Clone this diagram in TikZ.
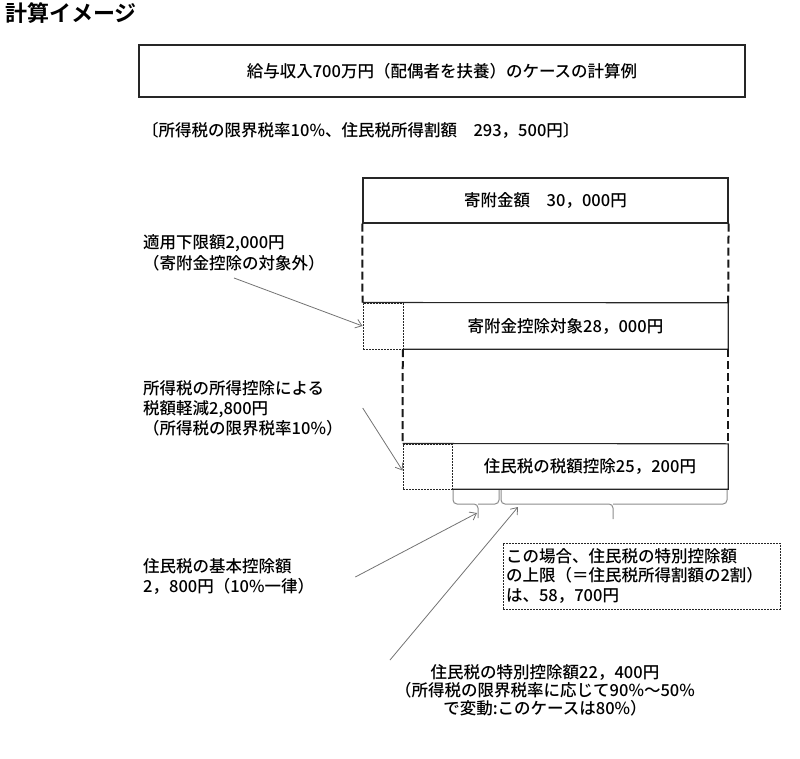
\documentclass[tikz,border=0pt]{standalone}
\usepackage{fontspec}
\setmainfont{Noto Sans CJK JP}[UprightFont={Noto Sans CJK JP Medium}, BoldFont={Noto Sans CJK JP Bold}]
\usetikzlibrary{positioning,calc,arrows.meta}

\begin{document}
\begin{tikzpicture}[x=1pt, y=-1pt, >={Straight Barb[length=6pt,width=9pt]},
    every node/.style={font=\fontsize{16.5}{20.5}\selectfont, inner sep=3pt},
    solidbox/.style={draw=black!85, line width=1.1pt, align=center},
    openbox/.style={align=center},
    dotbox/.style={draw=black!85, line width=1pt, dash pattern=on 2pt off 1pt},
    dashline/.style={draw=black!90, line width=2pt, dash pattern=on 8pt off 4pt},
    grayarrow/.style={->, draw=black!55, line width=0.8pt},
    bracepath/.style={draw=black!45, line width=1pt, rounded corners=4pt},
    note/.style={align=left, anchor=west}]
    \useasboundingbox (0,0) rectangle (800,759);

    % Title
    \node[anchor=north west, inner sep=0pt, font=\fontsize{22}{26}\selectfont\bfseries] (title) at (5,2) {計算イメージ};

    % Case box
    \node[solidbox, minimum width=606pt, minimum height=52pt] (case) at (442,71) {給与収入700万円（配偶者を扶養）のケースの計算例};
    \node[anchor=west, inner sep=0pt] (rate) at (142,130) {〔所得税の限界税率10\%、住民税所得割額　293，500円〕};

    % Donation
    \node[solidbox, minimum width=365pt, minimum height=45pt] (kifu) at (545.5,200.5) {寄附金額　30，000円};

    % Lower limit 2,000 (dotted) + deduction target
    \node[dotbox, minimum width=40pt, minimum height=46pt] (gen) at (383,326) {};
    \node[openbox, minimum width=325pt, minimum height=46pt] (taisho) at (565.5,326) {寄附金控除対象28，000円};
    \draw[black!85, line width=1.1pt] (gen.north west) -- (taisho.north east) -- (taisho.south east) -- (taisho.south west);

    % Income tax reduction (dotted) + resident tax credit
    \node[dotbox, minimum width=49pt, minimum height=45pt] (keigen) at (427.5,466.5) {};
    \node[openbox, minimum width=276pt, minimum height=45pt] (juumin) at (590,466.5) {住民税の税額控除25，200円};
    \draw[black!85, line width=1.1pt] (keigen.north west) -- (juumin.north east) -- (juumin.south east) -- (juumin.south west);

    % Dashed sides
    \draw[dashline] (kifu.south west) -- (gen.north west);
    \draw[dashline] (kifu.south east) -- (taisho.north east);
    \draw[dashline] (taisho.south west) -- (keigen.north west);
    \draw[dashline] (taisho.south east) -- (juumin.north east);

    % Braces under the credit
    \coordinate (tipA) at (478,518);
    \coordinate (tipB) at (613,519);
    \draw[bracepath] (453,490) -- (453,504) -- (478,504) -- (tipA);
    \draw[bracepath] (499,490) -- (499,504) -- (478,504);
    \draw[bracepath] (501,490) -- (501,504) -- (613,504) -- (tipB);
    \draw[bracepath] (727,490) -- (727,504) -- (613,504);

    % Notes on the left
    \node[note, font=\fontsize{16.5}{21}\selectfont] (tekiyou) at (140,252.5) {適用下限額2,000円\\（寄附金控除の対象外）};
    \node[note, font=\fontsize{16.5}{20}\selectfont] (shotoku) at (140,408) {所得税の所得控除による\\税額軽減2,800円\\（所得税の限界税率10\%）};
    \node[note, font=\fontsize{16.5}{20}\selectfont] (kihon) at (140,577) {住民税の基本控除額\\2，800円（10\%一律）};

    % Upper limit box
    \node[dotbox, text width=271pt, minimum height=66pt, align=left, font=\fontsize{16.5}{19.5}\selectfont] (jougen) at (641.5,576) {この場合、住民税の特別控除額\\の上限（＝住民税所得割額の2割）\\は、58，700円};

    % Special credit
    \node[align=center, font=\fontsize{16.5}{18}\selectfont] (tokubetsu) at (545,690) {住民税の特別控除額22，400円\\（所得税の限界税率に応じて90\%～50\%\\で変動:このケースは80\%）};

    % Arrows
    \coordinate (kihonend) at (477,513);
    \coordinate (tokustart) at (390,660);
    \coordinate (tokuend) at (518,507);
    \draw[grayarrow] ([yshift=-4pt]tekiyou.south) -- (gen.west);
    \draw[grayarrow] ([xshift=17pt]shotoku.east) -- ([yshift=-4pt]keigen.west);
    \draw[grayarrow] ([xshift=38pt]kihon.east) -- (kihonend);
    \draw[grayarrow] (tokustart) -- (tokuend);
\end{tikzpicture}
\end{document}
